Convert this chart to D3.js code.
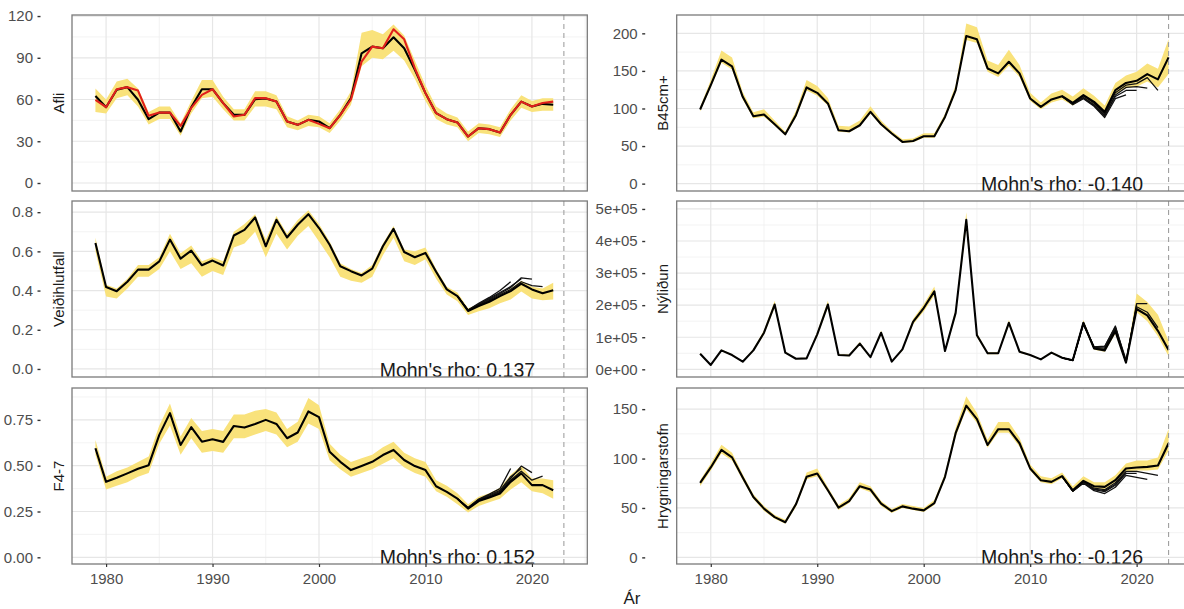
<!DOCTYPE html>
<html>
<head>
<meta charset="utf-8">
<script src="https://cdn.jsdelivr.net/npm/d3@7"></script>
<style>
  body { margin: 0; background: #fff; }
  svg { display: block; }
</style>
</head>
<body>
<svg id="chart" width="1184" height="609"></svg>
<script>
// ---- Data ---------------------------------------------------------------
const years = [1979, 1980, 1981, 1982, 1983, 1984, 1985, 1986, 1987, 1988,
               1989, 1990, 1991, 1992, 1993, 1994, 1995, 1996, 1997, 1998,
               1999, 2000, 2001, 2002, 2003, 2004, 2005, 2006, 2007, 2008,
               2009, 2010, 2011, 2012, 2013, 2014, 2015, 2016, 2017, 2018,
               2019, 2020, 2021, 2022, 2023];
const peelYears = [2013, 2014, 2015, 2016, 2017, 2018, 2019, 2020, 2021, 2022];
const xBreaks = [1980, 1990, 2000, 2010, 2020];
const assessmentYear = 2023;

// Afli (catch): model estimate, observed catch and interval
const afliEst = [62.6, 54.5, 67, 68.9, 59.8, 45.9, 50.6, 50.6, 37, 54.5,
                 67.4, 67.4, 57.4, 49, 49, 60.3, 60.7, 58.5, 44.2, 41.8,
                 45.4, 44.2, 39.4, 49, 61, 93.2, 98, 96.8, 104.7, 96.8,
                 81.3, 64.6, 50.2, 45.9, 43.5, 33.4, 39.4, 38.7, 36.3, 49,
                 58.5, 55, 56.9, 56.2];
const afliObs = [59.7, 54.5, 67.4, 68.9, 66.4, 48.3, 50.6, 50.6, 41, 54,
                 63.3, 67.4, 57.4, 47.8, 49, 61, 61, 58.5, 44.2, 41.8,
                 45.4, 42.5, 39.4, 49, 60, 87.2, 98, 96.8, 110.5, 103.3,
                 82.5, 64.6, 50.2, 45.9, 43.5, 33.4, 39.4, 38.7, 36.3, 49,
                 58.5, 55, 57.5, 58.5];
const afliLow = [51, 50, 61, 63, 55, 42, 46, 46, 34, 50,
                 61, 62, 53, 45, 45, 55, 55, 53, 40, 38,
                 41, 40, 36, 45, 56, 84, 90, 89, 95, 88,
                 75, 59, 46, 42, 40, 30, 36, 35, 33, 45,
                 54, 51, 52, 52];
const afliHigh = [68, 60, 73, 75, 68, 51, 55, 55, 43, 59,
                  74, 74, 62, 53, 53, 66, 66, 63, 48, 45,
                  49, 48, 43, 53, 66, 108, 110, 107, 114, 106,
                  88, 70, 55, 50, 47, 37, 43, 42, 40, 53,
                  63, 59, 61, 61];

// Veiðihlutfall (harvest rate)
const vhEst = [0.643, 0.418, 0.397, 0.445, 0.507, 0.507, 0.549, 0.66, 0.563, 0.604,
               0.529, 0.553, 0.528, 0.681, 0.71, 0.773, 0.626, 0.761, 0.671, 0.736,
               0.79, 0.719, 0.634, 0.524, 0.499, 0.477, 0.512, 0.626, 0.715, 0.597,
               0.57, 0.592, 0.496, 0.406, 0.372, 0.296, 0.321, 0.343, 0.372, 0.397,
               0.435, 0.406, 0.386, 0.402];
const vhLow = [0.6, 0.37, 0.36, 0.41, 0.47, 0.47, 0.51, 0.6, 0.51, 0.54,
               0.47, 0.5, 0.48, 0.62, 0.64, 0.7, 0.57, 0.69, 0.61, 0.68,
               0.73, 0.65, 0.57, 0.47, 0.45, 0.44, 0.47, 0.58, 0.67, 0.55,
               0.53, 0.56, 0.46, 0.38, 0.345, 0.275, 0.295, 0.31, 0.335, 0.355,
               0.395, 0.36, 0.35, 0.355];
const vhHigh = [0.67, 0.43, 0.41, 0.46, 0.53, 0.53, 0.57, 0.69, 0.59, 0.63,
                0.55, 0.57, 0.55, 0.7, 0.74, 0.79, 0.66, 0.78, 0.69, 0.76,
                0.81, 0.74, 0.65, 0.54, 0.51, 0.49, 0.53, 0.64, 0.73, 0.61,
                0.6, 0.62, 0.51, 0.42, 0.39, 0.31, 0.33, 0.35, 0.38, 0.41,
                0.45, 0.42, 0.41, 0.44];
const vhPeel2021 = [0.372, 0.298, 0.325, 0.35, 0.38, 0.405, 0.445, 0.425, 0.42];
const vhPeel2020 = [0.372, 0.3, 0.33, 0.355, 0.385, 0.415, 0.465, 0.458];
const vhPeel2019 = [0.372, 0.3, 0.33, 0.36, 0.39, 0.42, 0.46];
const vhPeel2018 = [0.372, 0.3, 0.335, 0.365, 0.4, 0.445];

// F4-7 (fishing mortality, ages 4-7)
const fEst = [0.595, 0.412, 0.434, 0.458, 0.483, 0.503, 0.668, 0.787, 0.613, 0.71,
              0.631, 0.644, 0.63, 0.717, 0.708, 0.728, 0.75, 0.728, 0.65, 0.681,
              0.796, 0.765, 0.576, 0.521, 0.476, 0.498, 0.521, 0.558, 0.586, 0.531,
              0.498, 0.476, 0.388, 0.357, 0.32, 0.266, 0.307, 0.326, 0.348, 0.412,
              0.458, 0.394, 0.394, 0.366];
const fLow = [0.56, 0.37, 0.39, 0.41, 0.44, 0.46, 0.62, 0.72, 0.56, 0.65,
              0.57, 0.58, 0.57, 0.65, 0.65, 0.67, 0.69, 0.67, 0.6, 0.63,
              0.73, 0.7, 0.53, 0.48, 0.44, 0.46, 0.48, 0.51, 0.54, 0.49,
              0.46, 0.44, 0.36, 0.33, 0.29, 0.245, 0.28, 0.3, 0.32, 0.37,
              0.41, 0.36, 0.35, 0.32];
const fHigh = [0.64, 0.44, 0.47, 0.49, 0.52, 0.55, 0.72, 0.84, 0.66, 0.76,
               0.69, 0.7, 0.69, 0.78, 0.78, 0.8, 0.81, 0.79, 0.7, 0.74,
               0.87, 0.83, 0.62, 0.56, 0.52, 0.54, 0.56, 0.6, 0.63, 0.57,
               0.54, 0.52, 0.42, 0.39, 0.35, 0.29, 0.33, 0.35, 0.38, 0.45,
               0.5, 0.43, 0.43, 0.42];
const fPeel2021 = [0.32, 0.267, 0.31, 0.33, 0.355, 0.42, 0.47, 0.421, 0.443];
const fPeel2020 = [0.32, 0.268, 0.312, 0.335, 0.36, 0.43, 0.498, 0.462];
const fPeel2019 = [0.32, 0.27, 0.315, 0.34, 0.365, 0.44, 0.485];
const fPeel2018 = [0.32, 0.272, 0.318, 0.345, 0.375, 0.485];

// B45cm+ (biomass of fish 45 cm and larger)
const bEst = [98.7, 131, 165, 156, 115.5, 89.7, 92, 79, 65.7, 91,
              128, 120.8, 106.7, 71, 69.7, 77.7, 95.5, 79, 66.7, 55.5,
              56.8, 63, 63, 88.8, 124.4, 196.4, 192, 153.3, 146.7, 162.2,
              146.7, 113.3, 102.2, 112, 116.4, 107.5, 117.7, 108.8, 95.5, 124.4,
              134, 136.8, 145.7, 138.7, 168];
const bLow = [96, 128, 161, 152, 112, 87, 89, 77, 64, 88,
              124, 117, 104, 69, 68, 76, 93, 77, 65, 54,
              55, 61, 61, 86, 121, 191, 187, 149, 142, 157,
              142, 110, 99, 108, 112, 104, 113, 105, 92, 119,
              127, 129, 136, 128, 146];
const bHigh = [102, 138, 177, 168, 122, 95, 99, 84, 69, 97,
               138, 130, 114, 77, 76, 84, 103, 84, 70, 59,
               60, 67, 67, 93, 131, 213, 208, 164, 158, 178,
               158, 121, 108, 120, 125, 116, 127, 117, 104, 134,
               144, 149, 160, 153, 192];
const bPeel2022 = [116.4, 107, 117, 107, 93, 121, 131, 133, 141, 124];
const bPeel2021 = [116, 106, 115, 105, 91, 118, 128, 129, 127];
const bPeel2020 = [116, 106, 114, 104, 90, 116, 124, 124];
const bPeel2019 = [116, 105, 113, 103, 88, 113, 118];

// Nýliðun (recruitment)
const nEst = [48700, 13500, 59000, 44500, 23800, 59000, 114000, 202000, 51800, 33000,
              34000, 109000, 202000, 44500, 43000, 80000, 38000, 114000, 24000, 62000,
              148000, 191000, 243000, 57000, 176000, 466000, 106000, 50000, 50000, 145000,
              55000, 44500, 31000, 52000, 36000, 28000, 145000, 65000, 59000, 119000,
              21000, 188000, 168000, 120000, 60000];
const nLow = [46000, 12000, 56000, 42000, 22000, 56000, 108000, 192000, 49000, 31000,
              32000, 103000, 192000, 42000, 41000, 76000, 36000, 108000, 22000, 58000,
              140000, 180000, 230000, 53000, 166000, 445000, 100000, 47000, 47000, 137000,
              52000, 42000, 29000, 49000, 34000, 26000, 136000, 61000, 55000, 111000,
              19000, 178000, 150000, 103000, 41000];
const nHigh = [52000, 15000, 62000, 47000, 26000, 63000, 122000, 214000, 55000, 35000,
               36000, 116000, 214000, 47000, 46000, 85000, 40000, 121000, 26000, 66000,
               157000, 203000, 258000, 61000, 187000, 490000, 113000, 53000, 53000, 154000,
               58000, 47000, 33000, 55000, 38000, 30000, 154000, 70000, 64000, 128000,
               24000, 236000, 210000, 170000, 88000];
const nPeel2022 = [36000, 28000, 145000, 65000, 62000, 125000, 21000, 195000, 178000, 130000];
const nPeel2021 = [36000, 28000, 145000, 68000, 66000, 130000, 22000, 205000, 205000];
const nPeel2020 = [36000, 28000, 140000, 70000, 70000, 135000, 23000, 200000];
const nPeel2019 = [36000, 28000, 140000, 70000, 72000, 132000, 30000];

// Hrygningarstofn (spawning stock biomass)
const hEst = [75.4, 91, 108.7, 101.2, 80.9, 61.1, 49.3, 40.7, 35.6, 53.7,
              81.5, 84.9, 67.9, 50.3, 57, 72, 68.6, 54.4, 46.8, 51.6,
              49.3, 47.6, 55, 81.5, 125.7, 153.5, 139.9, 113.7, 129.7, 129.7,
              115.5, 90, 78.1, 76.4, 82.2, 67.9, 77.4, 72, 71.3, 78.1,
              90, 91, 91.6, 93, 115.5];
const hLow = [72, 88, 105, 98, 78, 59, 47, 39, 34, 51,
              79, 82, 66, 48, 55, 70, 66, 52, 45, 50,
              48, 46, 53, 79, 122, 150, 136, 111, 126, 126,
              112, 88, 76, 74, 80, 66, 75, 70, 69, 76,
              87, 88, 88, 89, 108];
const hHigh = [78, 95, 114, 106, 84, 64, 52, 43, 38, 56,
               86, 90, 71, 53, 60, 76, 72, 57, 49, 54,
               52, 50, 58, 85, 131, 163, 146, 119, 137, 137,
               121, 94, 82, 80, 86, 72, 82, 76, 76, 83,
               95, 98, 98, 101, 130];
const hPeel2022 = [82, 67.5, 76.5, 70, 68.5, 75.5, 87, 87, 85, 83];
const hPeel2021 = [82, 67, 75, 67.5, 64.6, 71, 83, 81, 79];
const hPeel2020 = [82, 67, 75.5, 68.5, 66.5, 73, 85, 85];
const hPeel2019 = [82, 67, 76, 69, 67.5, 74, 86];

// Axis breaks per panel
const afliTicks = [0, 30, 60, 90, 120];
const vhTicks = [0, 0.2, 0.4, 0.6, 0.8];
const fTicks = [0, 0.25, 0.5, 0.75];
const bTicks = [0, 50, 100, 150, 200];
const nTicks = [0, 100000, 200000, 300000, 400000, 500000];
const hTicks = [0, 50, 100, 150];

const mohnsRho = { vh: "0.137", f: "0.152", b: "-0.140", h: "-0.126" };

// ---- Layout -------------------------------------------------------------
const fontFamily = "'Liberation Sans', Arial, Helvetica, sans-serif";
const colX = [72, 676.7];
const panelW = 515.3;
const rowY = [15, 201, 388];
const panelH = 176;
const xLimits = [1976.8, 2025.2];

const sciFmt = v => {
  if (v === 0) return "0e+00";
  const e = Math.floor(Math.log10(Math.abs(v)));
  const m = Math.round(v / Math.pow(10, e));
  return m + "e+" + String(e).padStart(2, "0");
};

const panels = [
  { id: "afli", label: "Afli", col: 0, row: 0, est: afliEst, low: afliLow, high: afliHigh,
    obs: afliObs, peels: [], yLim: [-5.75, 120.75], ticks: afliTicks, fmt: d3.format("d") },
  { id: "vh", label: "Veiðihlutfall", col: 0, row: 1, est: vhEst, low: vhLow, high: vhHigh,
    peels: [vhPeel2021, vhPeel2020, vhPeel2019, vhPeel2018], yLim: [-0.041, 0.857],
    ticks: vhTicks, fmt: d3.format(".1f"), rho: mohnsRho.vh },
  { id: "f", label: "F4-7", col: 0, row: 2, est: fEst, low: fLow, high: fHigh,
    peels: [fPeel2021, fPeel2020, fPeel2019, fPeel2018], yLim: [-0.0365, 0.924],
    ticks: fTicks, fmt: d3.format(".2f"), rho: mohnsRho.f },
  { id: "b", label: "B45cm+", col: 1, row: 0, est: bEst, low: bLow, high: bHigh,
    peels: [bPeel2022, bPeel2021, bPeel2020, bPeel2019], yLim: [-9.8, 224.4],
    ticks: bTicks, fmt: d3.format("d"), rho: mohnsRho.b },
  { id: "n", label: "Nýliðun", col: 1, row: 1, est: nEst, low: nLow, high: nHigh,
    peels: [nPeel2022, nPeel2021, nPeel2020, nPeel2019], yLim: [-24000, 524800],
    ticks: nTicks, fmt: sciFmt },
  { id: "h", label: "Hrygningarstofn", col: 1, row: 2, est: hEst, low: hLow, high: hHigh,
    peels: [hPeel2022, hPeel2021, hPeel2020, hPeel2019], yLim: [-6.7, 171.4],
    ticks: hTicks, fmt: d3.format("d"), rho: mohnsRho.h }
];

// ---- Drawing ------------------------------------------------------------
const svg = d3.select("#chart").style("font-family", fontFamily);
const x = d3.scaleLinear().domain(xLimits).range([0, panelW]);

// minor breaks sit halfway between majors, extended one step beyond each end
function minorBreaks(major, lim) {
  const step = major[1] - major[0];
  const ext = [major[0] - step, ...major, major[major.length - 1] + step];
  const out = [];
  for (let i = 0; i < ext.length - 1; i++) {
    const m = (ext[i] + ext[i + 1]) / 2;
    if (m > lim[0] && m < lim[1]) out.push(m);
  }
  return out;
}
const xMinor = minorBreaks(xBreaks, xLimits);

const defs = svg.append("defs");

panels.forEach(p => {
  const px = colX[p.col], py = rowY[p.row];
  const y = d3.scaleLinear().domain(p.yLim).range([panelH, 0]);
  const g = svg.append("g").attr("transform", `translate(${px},${py})`);

  defs.append("clipPath").attr("id", "clip-" + p.id)
    .append("rect").attr("width", panelW).attr("height", panelH);

  const body = g.append("g").attr("clip-path", `url(#clip-${p.id})`);
  body.append("rect").attr("width", panelW).attr("height", panelH).attr("fill", "#fff");

  // grid
  const yMinor = minorBreaks(p.ticks, p.yLim);
  body.selectAll(".ymin").data(yMinor).join("line")
    .attr("x1", 0).attr("x2", panelW).attr("y1", d => y(d)).attr("y2", d => y(d))
    .attr("stroke", "#F0F0F0").attr("stroke-width", 0.8);
  body.selectAll(".xmin").data(xMinor).join("line")
    .attr("y1", 0).attr("y2", panelH).attr("x1", d => x(d)).attr("x2", d => x(d))
    .attr("stroke", "#F0F0F0").attr("stroke-width", 0.8);
  body.selectAll(".ymaj").data(p.ticks).join("line")
    .attr("x1", 0).attr("x2", panelW).attr("y1", d => y(d)).attr("y2", d => y(d))
    .attr("stroke", "#E6E6E6").attr("stroke-width", 1.2);
  body.selectAll(".xmaj").data(xBreaks).join("line")
    .attr("y1", 0).attr("y2", panelH).attr("x1", d => x(d)).attr("x2", d => x(d))
    .attr("stroke", "#E6E6E6").attr("stroke-width", 1.2);

  // confidence band
  const bandData = p.low.map((lo, i) => ({ yr: years[i], lo, hi: p.high[i] }));
  body.append("path").datum(bandData)
    .attr("d", d3.area().x(d => x(d.yr)).y0(d => y(d.lo)).y1(d => y(d.hi)))
    .attr("fill", "#F9E27B");

  const line = d3.line().x(d => x(d[0])).y(d => y(d[1]));

  // retrospective peels
  p.peels.forEach(arr => {
    body.append("path").datum(arr.map((v, i) => [peelYears[i], v]))
      .attr("d", line).attr("fill", "none")
      .attr("stroke", "#111").attr("stroke-width", 1.3).attr("stroke-linejoin", "round");
  });

  // latest estimate
  body.append("path").datum(p.est.map((v, i) => [years[i], v]))
    .attr("d", line).attr("fill", "none")
    .attr("stroke", "#000").attr("stroke-width", 2.1).attr("stroke-linejoin", "round");

  // observed catch
  if (p.obs) {
    body.append("path").datum(p.obs.map((v, i) => [years[i], v]))
      .attr("d", line).attr("fill", "none")
      .attr("stroke", "#E0201B").attr("stroke-width", 2.1).attr("stroke-linejoin", "round");
  }

  // assessment year marker
  body.append("line")
    .attr("x1", x(assessmentYear)).attr("x2", x(assessmentYear))
    .attr("y1", 0).attr("y2", panelH)
    .attr("stroke", "#A0A0A0").attr("stroke-width", 1.1).attr("stroke-dasharray", "5,4");

  if (p.rho) {
    g.append("text")
      .attr("x", x(2013)).attr("y", panelH - 0.5)
      .attr("text-anchor", "middle")
      .attr("font-size", 19.5).attr("fill", "#1A1A1A")
      .text("Mohn's rho: " + p.rho);
  }

  // panel border
  g.append("rect").attr("width", panelW).attr("height", panelH)
    .attr("fill", "none").attr("stroke", "#7A7A7A").attr("stroke-width", 1.3);

  // facet strip label (left side)
  g.append("text")
    .attr("transform", `translate(-14,${panelH / 2}) rotate(-90)`)
    .attr("text-anchor", "middle").attr("dominant-baseline", "central")
    .attr("font-size", 15).attr("fill", "#1A1A1A")
    .text(p.label);

  // y axis, outside the strip
  const yAxis = svg.append("g")
    .attr("transform", `translate(${px - 31.5},${py})`)
    .call(d3.axisLeft(y).tickValues(p.ticks).tickFormat(p.fmt).tickSize(3).tickPadding(4.5));
  yAxis.select(".domain").remove();
  yAxis.selectAll(".tick line").attr("stroke", "#333").attr("stroke-width", 1.4);
  yAxis.selectAll(".tick text").attr("font-size", 15).attr("fill", "#4D4D4D")
    .attr("font-family", fontFamily);

  // x axis on the bottom row only
  if (p.row === 2) {
    const xAxis = svg.append("g")
      .attr("transform", `translate(${px},${py + panelH})`)
      .call(d3.axisBottom(x).tickValues(xBreaks).tickFormat(d3.format("d")).tickSize(3).tickPadding(6.5));
    xAxis.select(".domain").remove();
    xAxis.selectAll(".tick line").attr("stroke", "#333").attr("stroke-width", 1.2);
    xAxis.selectAll(".tick text").attr("font-size", 15).attr("fill", "#4D4D4D")
      .attr("font-family", fontFamily);
  }
});

// shared x-axis title
svg.append("text")
  .attr("x", (colX[0] + colX[1] + panelW) / 2).attr("y", 604)
  .attr("text-anchor", "middle")
  .attr("font-size", 17).attr("fill", "#1A1A1A")
  .text("Ár");
</script>
</body>
</html>
